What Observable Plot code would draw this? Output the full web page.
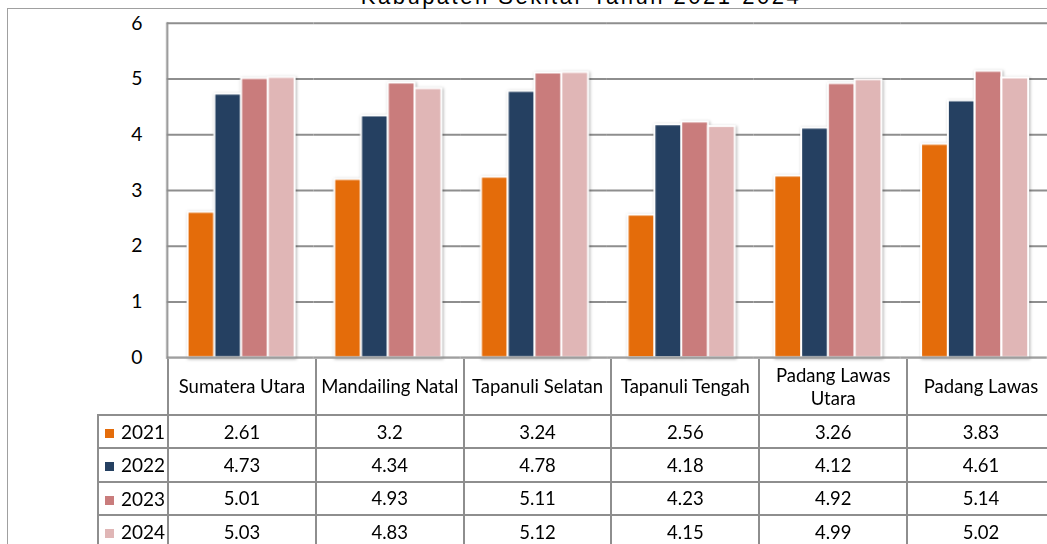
<!DOCTYPE html>
<html>
<head>
<meta charset="utf-8">
<script src="https://cdn.jsdelivr.net/npm/d3@7"></script>
<script src="https://cdn.jsdelivr.net/npm/@observablehq/plot@0.6"></script>
<style>
html, body { margin: 0; padding: 0; background: #fff; overflow: hidden; width: 1047px; height: 544px; }
#wrap { position: relative; width: 1047px; height: 544px; overflow: hidden; }
#border { position: absolute; left: 7px; top: 8px; width: 2000px; height: 2000px; border-left: 1.5px solid #a0a0a0; border-top: 1.5px solid #a0a0a0; }
#title { position: absolute; top: -14px; left: 0; width: 1162px; text-align: center; font: 22px "Liberation Sans", Arial, sans-serif; line-height: 22px; letter-spacing: 2.5px; color: #000; white-space: nowrap; }
#chart { position: absolute; left: 0; top: 0; }
#tbl { position: absolute; border-collapse: collapse; table-layout: fixed; font-family: Lato, sans-serif; font-size: 18.5px; color: #000; }
#tbl td { border: 2px solid #8e8e8e; text-align: center; padding: 0 2px; }
#tbl tr.head td { border-top: none; height: 55px; line-height: 23px; }
#tbl tr.head td.corner { border-left: none; border-top: none; }
#tbl tr.data td { height: 31.3px; }
#tbl td.leg { text-align: left; padding-left: 6px; white-space: nowrap; font-size: 19px; }
#tbl .sw { display: inline-block; width: 9px; height: 9px; margin-right: 7px; vertical-align: 1px; }
</style>
</head>
<body>
<div id="wrap">
  <div id="border"></div>
  <div id="title">Kabupaten Sekitar Tahun 2021-2024</div>
  <div id="chart"></div>
</div>
<script>
const categories = ["Sumatera Utara", "Mandailing Natal", "Tapanuli Selatan", "Tapanuli Tengah", "Padang Lawas Utara", "Padang Lawas"];
const years = ["2021", "2022", "2023", "2024"];
const v2021 = [2.61, 3.2, 3.24, 2.56, 3.26, 3.83];
const v2022 = [4.73, 4.34, 4.78, 4.18, 4.12, 4.61];
const v2023 = [5.01, 4.93, 5.11, 4.23, 4.92, 5.14];
const v2024 = [5.03, 4.83, 5.12, 4.15, 4.99, 5.02];
const yTicks = [0, 1, 2, 3, 4, 5, 6];
const colors = ["#E46C0A", "#254061", "#C97C7C", "#E0B6B6"];

const series = [v2021, v2022, v2023, v2024];
const rows = [];
categories.forEach((c, i) => years.forEach((y, j) => rows.push({cat: c, year: y, value: series[j][i]})));

const chart = Plot.plot({
  width: 1055,
  height: 362,
  marginLeft: 168,
  marginRight: 0,
  marginTop: 23,
  marginBottom: 2,
  style: {background: "transparent", fontFamily: "Lato, sans-serif", overflow: "visible"},
  fx: {domain: categories, padding: 0, round: false, axis: null, label: null},
  x: {domain: years, paddingInner: 0, paddingOuter: 0.74, round: false, axis: null},
  y: {domain: [0, 6], ticks: yTicks},
  color: {domain: years, range: colors},
  marks: [
    Plot.ruleY(yTicks.filter(d => d > 0), {stroke: "#8e8e8e", strokeWidth: 2}),
    Plot.barY(rows, {fx: "cat", x: "year", y: "value", fill: "year", stroke: "white", strokeWidth: 2, dx: 1}),
    Plot.ruleY([0], {stroke: "#8e8e8e", strokeWidth: 2}),
    Plot.frame({anchor: "left", facetAnchor: "left", stroke: "#8e8e8e", strokeWidth: 2}),
    Plot.axisY(yTicks, {tickSize: 0, tickPadding: 25, fontSize: 19.5, fill: "#000", tickFormat: d => String(d), label: null})
  ]
});
chart.querySelectorAll('g[aria-label="bar"]').forEach(g => g.style.filter = "drop-shadow(1.5px 1.5px 1.5px rgba(0,0,0,0.3))");
document.getElementById("chart").appendChild(chart);

// data table aligned to the chart's fx scale
const fx = chart.scale("fx");
const ys = chart.scale("y");
const colW = fx.step;
const legW = fx.range[0] - 98;
const tbl = document.createElement("table");
tbl.id = "tbl";
tbl.style.left = (fx.range[0] - legW - 1) + "px";
tbl.style.top = (ys.apply(0) - 1) + "px";
tbl.style.width = (legW + colW * categories.length) + "px";
const cg = document.createElement("colgroup");
[legW, ...categories.map(() => colW)].forEach(w => {
  const col = document.createElement("col");
  col.style.width = w + "px";
  cg.appendChild(col);
});
tbl.appendChild(cg);
const head = document.createElement("tr");
head.className = "head";
const corner = document.createElement("td");
corner.className = "corner";
corner.style.borderLeft = "none";
head.appendChild(corner);
categories.forEach(c => {
  const td = document.createElement("td");
  td.textContent = c;
  head.appendChild(td);
});
tbl.appendChild(head);
years.forEach((y, j) => {
  const tr = document.createElement("tr");
  tr.className = "data";
  const lg = document.createElement("td");
  lg.className = "leg";
  const sw = document.createElement("span");
  sw.className = "sw";
  sw.style.background = colors[j];
  lg.appendChild(sw);
  lg.appendChild(document.createTextNode(y));
  tr.appendChild(lg);
  series[j].forEach(v => {
    const td = document.createElement("td");
    td.textContent = String(v);
    tr.appendChild(td);
  });
  tbl.appendChild(tr);
});
document.getElementById("wrap").appendChild(tbl);
</script>
</body>
</html>
